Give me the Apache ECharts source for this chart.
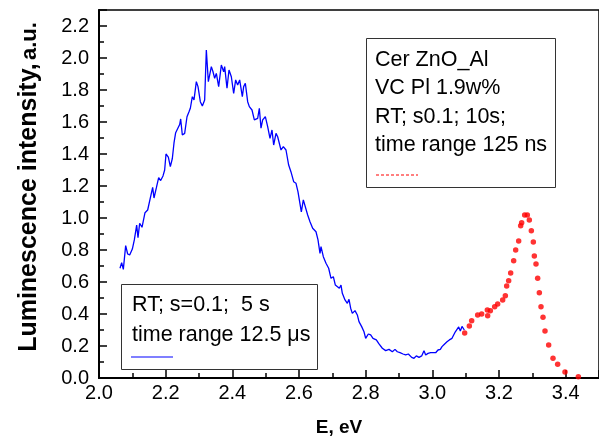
<!DOCTYPE html>
<html>
<head>
<meta charset="utf-8">
<script src="https://cdn.jsdelivr.net/npm/echarts@6/dist/echarts.min.js"></script>
<style>
  html, body { margin: 0; padding: 0; background: #fff; }
  #chart { width: 599px; height: 443px; }
</style>
</head>
<body>
<div id="chart"></div>
<script>
// blue curve: RT; s=0.1; 5 s, time range 12.5 us
const blueE = [
  2.063, 2.068, 2.073, 2.080, 2.086, 2.092, 2.100, 2.106, 2.113, 2.117, 2.122, 2.129, 2.138, 2.146,
  2.152, 2.158, 2.161, 2.165, 2.172, 2.179, 2.185, 2.192, 2.197, 2.201, 2.208, 2.214, 2.220, 2.225,
  2.230, 2.242, 2.245, 2.250, 2.257, 2.264, 2.270, 2.274, 2.280, 2.285, 2.292, 2.297, 2.304, 2.310,
  2.317, 2.322, 2.328, 2.332, 2.337, 2.342, 2.347, 2.352, 2.359, 2.367, 2.374, 2.377, 2.384, 2.390,
  2.397, 2.404, 2.410, 2.416, 2.422, 2.430, 2.434, 2.439, 2.446, 2.451, 2.459, 2.466, 2.476, 2.481,
  2.486, 2.491, 2.499, 2.506, 2.513, 2.519, 2.524, 2.531, 2.536, 2.541, 2.546, 2.553, 2.561, 2.569,
  2.576, 2.584, 2.591, 2.597, 2.603, 2.607, 2.613, 2.619, 2.626, 2.633, 2.641, 2.651, 2.657, 2.663,
  2.666, 2.673, 2.681, 2.689, 2.696, 2.703, 2.709, 2.715, 2.721, 2.726, 2.730, 2.738, 2.745, 2.750,
  2.755, 2.760, 2.768, 2.775, 2.780, 2.788, 2.795, 2.800, 2.808, 2.815, 2.822, 2.832, 2.840, 2.850,
  2.860, 2.870, 2.880, 2.888, 2.895, 2.903, 2.912, 2.920, 2.928, 2.938, 2.945, 2.952, 2.960, 2.968,
  2.975, 2.980, 2.987, 2.995, 3.001, 3.010, 3.017, 3.024, 3.029, 3.037, 3.044, 3.051, 3.059, 3.064,
  3.069, 3.074, 3.079, 3.084, 3.089, 3.093, 3.096
];
const blueI = [
  0.686, 0.721, 0.679, 0.827, 0.775, 0.769, 0.806, 0.863, 0.956, 0.877, 0.967, 0.942, 1.033, 1.050,
  1.044, 1.163, 1.191, 1.125, 1.188, 1.253, 1.234, 1.263, 1.300, 1.400, 1.381, 1.321, 1.372, 1.469,
  1.533, 1.584, 1.619, 1.519, 1.529, 1.633, 1.664, 1.686, 1.758, 1.738, 1.852, 1.821, 1.727, 1.700,
  1.738, 2.050, 1.852, 1.842, 1.946, 1.914, 1.873, 1.904, 1.821, 1.956, 1.914, 1.946, 1.811, 1.925,
  1.883, 1.779, 1.863, 1.831, 1.863, 1.758, 1.821, 1.842, 1.727, 1.696, 1.675, 1.613, 1.623, 1.686,
  1.561, 1.613, 1.633, 1.571, 1.498, 1.550, 1.456, 1.529, 1.508, 1.519, 1.425, 1.446, 1.425, 1.331,
  1.288, 1.227, 1.217, 1.163, 1.169, 1.038, 1.113, 1.102, 1.019, 0.977, 0.936, 0.914, 0.863, 0.779,
  0.821, 0.758, 0.717, 0.686, 0.623, 0.633, 0.581, 0.592, 0.561, 0.581, 0.529, 0.488, 0.467, 0.492,
  0.436, 0.404, 0.421, 0.394, 0.352, 0.321, 0.289, 0.248, 0.275, 0.269, 0.248, 0.238, 0.213, 0.186,
  0.171, 0.179, 0.164, 0.179, 0.164, 0.158, 0.150, 0.144, 0.150, 0.129, 0.123, 0.138, 0.129, 0.138,
  0.171, 0.144, 0.154, 0.158, 0.164, 0.158, 0.175, 0.179, 0.196, 0.213, 0.227, 0.238, 0.248, 0.269,
  0.289, 0.304, 0.319, 0.294, 0.322, 0.334, 0.300
];
// red dotted curve: RT; s0.1; 10s, time range 125 ns
const redE = [
  3.097, 3.111, 3.118, 3.136, 3.148, 3.165, 3.166, 3.174, 3.187, 3.196, 3.211, 3.219, 3.223, 3.229,
  3.235, 3.244, 3.250, 3.259, 3.265, 3.268, 3.277, 3.285, 3.291, 3.297, 3.303, 3.306, 3.311, 3.316,
  3.321, 3.326, 3.332, 3.338, 3.349, 3.362, 3.376, 3.398, 3.438
];
const redI = [
  0.281, 0.325, 0.358, 0.394, 0.400, 0.425, 0.389, 0.421, 0.446, 0.463, 0.488, 0.514, 0.575, 0.608,
  0.656, 0.733, 0.800, 0.856, 0.952, 0.971, 1.019, 1.019, 0.988, 0.921, 0.850, 0.763, 0.713, 0.623,
  0.533, 0.446, 0.379, 0.294, 0.206, 0.123, 0.086, 0.038, 0.008
];

const legendLong = ['Cer ZnO_Al', 'VC Pl 1.9w%', 'RT; s0.1; 10s;', 'time range 125 ns'];
const legendShort = ['RT; s=0.1;  5 s', 'time range 12.5 \u03bcs'];

const blueData = blueE.map((e, i) => [e, blueI[i]]);
const redData = redE.map((e, i) => [e, redI[i]]);

const font = 'Arial, "Liberation Sans", Helvetica, sans-serif';
const chart = echarts.init(document.getElementById('chart'), null, {renderer: 'canvas'});

const tickStyle = {
  axisLine: {show: true, onZero: false, lineStyle: {color: '#000', width: 2}},
  axisTick: {show: true, inside: true, length: 8, lineStyle: {color: '#000', width: 1.5}},
  minorTick: {show: true, splitNumber: 2, length: 5, lineStyle: {color: '#000', width: 1.5}},
  splitLine: {show: false}
};

const textLines = (lines, x, y0, step) => lines.map((t, i) => ({
  type: 'text', left: x, top: y0 + i * step, z: 11,
  style: {text: t, font: '21.5px ' + font, fill: '#000'}
}));

chart.setOption({
  animation: false,
  backgroundColor: '#fff',
  grid: {left: 99, top: 10, right: -3, bottom: 65, show: true, borderColor: '#000', borderWidth: 1.5},
  xAxis: {
    type: 'value', min: 2.0, max: 3.5, interval: 0.2,
    name: 'E, eV', nameLocation: 'middle', nameGap: 40,
    nameTextStyle: {fontFamily: font, fontSize: 19, fontWeight: 'bold', color: '#000', padding: [0, 20, 0, 0]},
    axisLabel: {fontFamily: font, fontSize: 20, color: '#000', margin: 5, showMaxLabel: false,
      formatter: v => v.toFixed(1)},
    ...tickStyle
  },
  yAxis: {
    type: 'value', min: 0, max: 2.3, interval: 0.2,
    nameLocation: 'middle', nameGap: 57,
    name: '{a|Luminescence intensity,} {b|a.u.}',
    nameTextStyle: {fontFamily: font, fontWeight: 'bold', color: '#000', padding: [0, 0, 0, 14],
      rich: {
        a: {fontFamily: font, fontSize: 25, fontWeight: 'bold', color: '#000'},
        b: {fontFamily: font, fontSize: 22, fontWeight: 'bold', color: '#000'}
      }},
    axisLabel: {fontFamily: font, fontSize: 20, color: '#000', margin: 10, showMaxLabel: false,
      formatter: v => v.toFixed(1)},
    ...tickStyle
  },
  series: [
    {
      type: 'line', data: blueData, showSymbol: false, symbol: 'none',
      lineStyle: {color: '#0000ff', width: 1.3}, z: 3
    },
    {
      type: 'scatter', data: redData, symbol: 'circle', symbolSize: 5.5,
      itemStyle: {color: '#ff0000'}, z: 4
    }
  ],
  graphic: [
    {type: 'rect', left: 366, top: 38, shape: {width: 189, height: 149},
      style: {fill: '#fff', stroke: '#333', lineWidth: 1}, z: 10},
    ...textLines(legendLong, 375, 49, 28.5),
    {type: 'line', shape: {x1: 376, y1: 175, x2: 418, y2: 175},
      style: {stroke: '#ff0000', lineWidth: 1.2, lineDash: [3, 2]}, z: 11},
    {type: 'rect', left: 121, top: 284, shape: {width: 196, height: 85},
      style: {fill: '#fff', stroke: '#333', lineWidth: 1}, z: 10},
    ...textLines(legendShort, 132, 294, 30),
    {type: 'line', shape: {x1: 131, y1: 357, x2: 173, y2: 357},
      style: {stroke: '#0000ff', lineWidth: 1.2}, z: 11}
  ]
});
</script>
</body>
</html>
